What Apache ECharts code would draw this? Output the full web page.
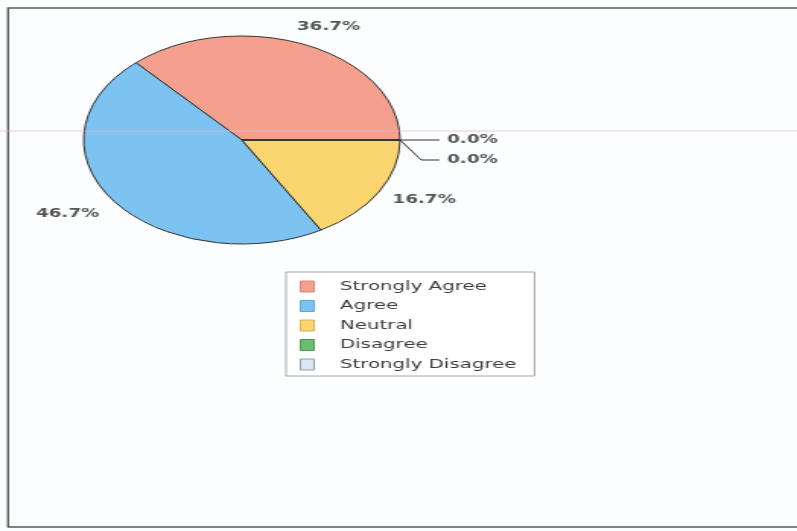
<!DOCTYPE html>
<html>
<head>
<meta charset="utf-8">
<script src="https://cdn.jsdelivr.net/npm/echarts@6/dist/echarts.min.js"></script>
<style>
html, body { margin: 0; padding: 0; background: #fcfdfe; overflow: hidden; }
#wrap { position: absolute; left: 0; top: 0; width: 797px; height: 531px; overflow: hidden; }
#chart { position: absolute; left: 0; top: 0; width: 524px; height: 531px; transform: scaleX(1.521); transform-origin: 0 0; }
</style>
</head>
<body>
<div id="wrap"><div id="chart"></div></div>
<script>
// ---- data ----
const categories = ['Strongly Agree', 'Agree', 'Neutral', 'Disagree', 'Strongly Disagree'];
const responses = [11, 14, 5, 0, 0];

// ---- style ----
const sliceColors = ['#F5A08E', '#7DC3F2', '#FBD56F', '#6DBB73', '#DDE7F2'];
const iconBorders = ['#d88a78', '#5ea9dc', '#d8b24e', '#4f9b55', '#8f9db0'];
const labelNudge = [[5, 3.5], [-11, -1], [9, -4], [0, 0], [0, 0]];

const PIE_CX = 159, PIE_CY = 140, PIE_R = 104;
const total = responses.reduce((a, b) => a + b, 0);
const midAngles = [];
(function () {
  let cum = 0;
  responses.forEach(v => { midAngles.push(360 * (cum + v / 2) / total); cum += v; });
})();
const zeroOrder = [];
(function () {
  let k = 0;
  responses.forEach(v => { zeroOrder.push(v === 0 ? k++ : -1); });
})();

const chart = echarts.init(document.getElementById('chart'), null, { renderer: 'canvas' });

chart.setOption({
  animation: false,
  backgroundColor: '#fcfdfe',
  graphic: [
    { type: 'polyline', z: 0, silent: true,
      shape: { points: [[524, 8], [5.3, 8], [5.3, 527], [524, 527]] },
      style: { fill: 'none', stroke: '#5a5a5a', lineWidth: 1.4 } },
    { type: 'line', z: 100, silent: true,
      shape: { x1: 0, y1: 131, x2: 524, y2: 131 },
      style: { stroke: 'rgba(236,180,196,0.45)', lineWidth: 1.5 } }
  ],
  legend: {
    orient: 'vertical',
    left: 188,
    top: 272,
    selectedMode: false,
    data: categories.map((c, i) => ({
      name: c,
      itemStyle: { color: sliceColors[i], borderColor: iconBorders[i], borderWidth: 1 }
    })),
    icon: 'rect',
    itemWidth: 9,
    itemHeight: 11,
    itemGap: 6.5,
    padding: [8, 12, 5, 9],
    backgroundColor: '#ffffff',
    borderColor: '#a8a8a8',
    borderWidth: 1,
    textStyle: { fontFamily: 'DejaVu Sans', fontSize: 13, color: '#3c3c3c', padding: [0, 0, 0, 12] }
  },
  series: [{
    type: 'pie',
    center: [PIE_CX, PIE_CY],
    radius: PIE_R,
    startAngle: 0,
    clockwise: false,
    avoidLabelOverlap: false,
    silent: true,
    emphasis: { disabled: true },
    itemStyle: { borderColor: '#333', borderWidth: 1 },
    label: {
      show: true,
      position: 'outside',
      fontFamily: 'DejaVu Sans',
      fontSize: 12,
      fontWeight: 'bold',
      color: '#555',
      formatter: p => (p.value / total * 100).toFixed(1) + '%'
    },
    labelLine: { show: true, lineStyle: { color: '#333', width: 1 } },
    labelLayout: function (params) {
      const i = params.dataIndex;
      const a = midAngles[i] * Math.PI / 180;
      const dx = Math.cos(a), dy = -Math.sin(a);
      if (responses[i] > 0) {
        const R = PIE_R + 24;
        return {
          x: PIE_CX + R * dx + labelNudge[i][0],
          y: PIE_CY + R * dy + labelNudge[i][1],
          align: 'center',
          verticalAlign: 'middle'
        };
      }
      const k = zeroOrder[i];
      const ex = PIE_CX + PIE_R * dx, ey = PIE_CY + PIE_R * dy;
      const off = 20 * k;
      const pts = k === 0
        ? [[ex, ey], [PIE_CX + PIE_R + 26, ey]]
        : [[ex, ey], [PIE_CX + PIE_R + 14, ey + off], [PIE_CX + PIE_R + 26, ey + off]];
      return {
        x: PIE_CX + PIE_R + 31,
        y: ey + off,
        align: 'left',
        verticalAlign: 'middle',
        labelLinePoints: pts
      };
    },
    data: categories.map((c, i) => ({
      name: c,
      value: responses[i],
      itemStyle: { color: sliceColors[i] },
      labelLine: { show: responses[i] === 0 }
    }))
  }]
});
</script>
</body>
</html>
